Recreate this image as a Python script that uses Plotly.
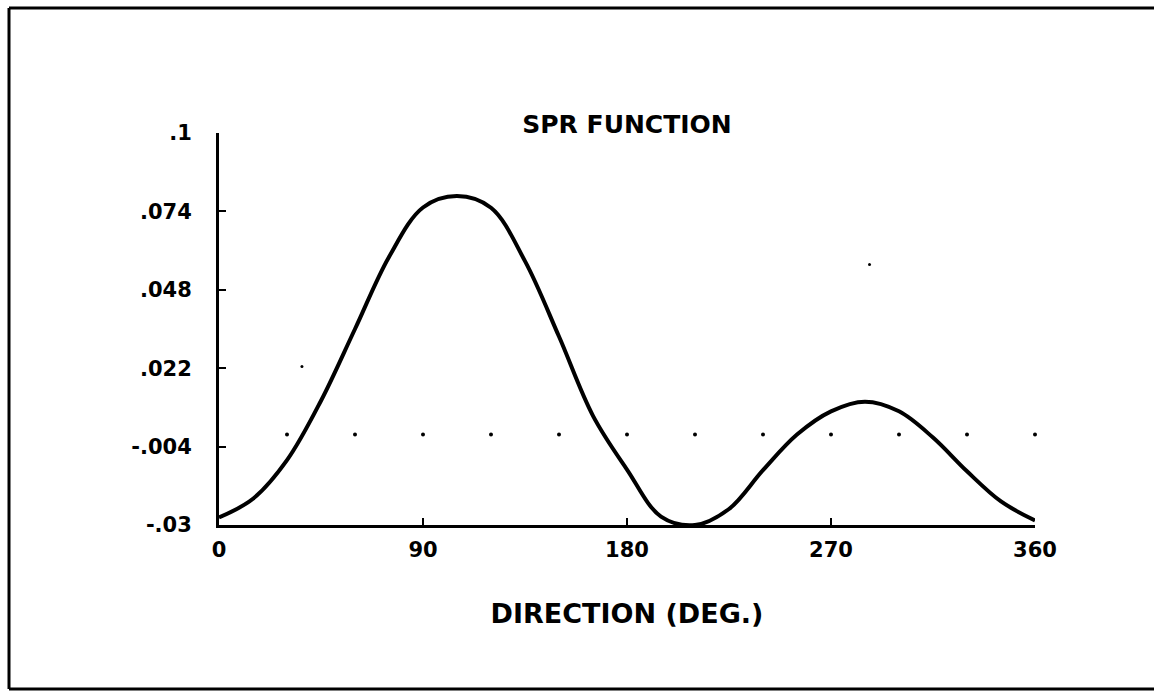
import plotly.graph_objects as go

# Curve samples (direction in degrees, SPR value)
direction = [0, 15, 30, 45, 60, 75, 90, 105, 120, 135, 150, 165, 180, 195, 210,
             225, 240, 255, 270, 285, 300, 315, 330, 345, 360]
spr = [-0.0275, -0.0213, -0.0085, 0.0112, 0.0350, 0.0589, 0.0753, 0.0791, 0.0752, 0.0575,
       0.0325, 0.0062, -0.0116, -0.0272, -0.0300, -0.0247, -0.0118, 0.0000, 0.0077, 0.0109,
       0.0077, -0.0010, -0.0122, -0.0222, -0.0285]

# Dotted reference line
dot_x = [30, 60, 90, 120, 150, 180, 210, 240, 270, 300, 330, 360]
dot_y = [0, 0, 0, 0, 0, 0, 0, 0, 0, 0, 0, 0]

# Stray specks visible on the sheet
speck_x = [36.6, 287, 167, -40]
speck_y = [0.0226, 0.0564, 0.1106, -0.0638]

x_ticks = [0, 90, 180, 270, 360]
x_ticktext = ["0", "90", "180", "270", "360"]
y_ticks = [0.1, 0.074, 0.048, 0.022, -0.004, -0.03]
y_ticktext = [".1", ".074", ".048", ".022", "-.004", "-.03"]

FONT = "DejaVu Sans"
W, H = 1154, 691
L, R, T, B = 219, 119, 133, 166
PW, PH = W - L - R, H - T - B

fig = go.Figure()
fig.add_trace(go.Scatter(x=dot_x, y=dot_y, mode="markers",
                         marker=dict(color="black", size=4), cliponaxis=False, showlegend=False))
fig.add_trace(go.Scatter(x=speck_x, y=speck_y, mode="markers",
                         marker=dict(color="black", size=3), cliponaxis=False, showlegend=False))
fig.add_trace(go.Scatter(x=direction, y=spr, mode="lines",
                         line=dict(color="black", width=4, shape="spline", smoothing=1.0),
                         cliponaxis=False, showlegend=False))

fig.update_layout(
    width=W, height=H,
    margin=dict(l=L, r=R, t=T, b=B),
    paper_bgcolor="white", plot_bgcolor="white",
    title=dict(text="SPR FUNCTION", x=0.5, xref="paper", xanchor="center",
               y=1 - 124 / H, yref="container", yanchor="middle",
               font=dict(family=FONT, size=25, color="black", weight="bold")),
    font=dict(family=FONT, color="black"),
    showlegend=False,
)
fig.update_xaxes(range=[0, 360], tickvals=x_ticks, ticktext=x_ticktext,
                 showline=True, linecolor="black", linewidth=3, showgrid=False, zeroline=False,
                 ticks="inside", ticklen=7, tickwidth=2, tickcolor="black",
                 ticklabelstandoff=4,
                 tickfont=dict(family=FONT, size=21, color="black", weight="bold"),
                 title=dict(text="DIRECTION (DEG.)", standoff=43,
                            font=dict(family=FONT, size=27, color="black", weight="bold")))
fig.update_yaxes(range=[-0.03, 0.1], tickvals=y_ticks, ticktext=y_ticktext,
                 showline=True, linecolor="black", linewidth=3, showgrid=False, zeroline=False,
                 ticks="inside", ticklen=7, tickwidth=2, tickcolor="black",
                 ticklabelstandoff=20,
                 tickfont=dict(family=FONT, size=21, color="black", weight="bold"))

# Outer frame of the sheet (left, top and bottom edges; right edge is off the sheet)
fx0 = (9 - L) / PW
fx1 = (W - L) / PW
fy_top = (H - B - 8) / PH
fy_bot = (H - B - 689) / PH
frame = dict(color="black", width=3)
fig.add_shape(type="line", xref="paper", yref="paper", x0=fx0, x1=fx0, y0=fy_bot, y1=fy_top, line=frame)
fig.add_shape(type="line", xref="paper", yref="paper", x0=fx0, x1=fx1, y0=fy_top, y1=fy_top, line=frame)
fig.add_shape(type="line", xref="paper", yref="paper", x0=fx0, x1=fx1, y0=fy_bot, y1=fy_bot, line=frame)

fig.write_html(
    "out.html",
    config={"displayModeBar": False},
    post_script=("document.body.style.margin='0';"
                 "document.body.style.overflow='hidden';"
                 "document.documentElement.style.overflow='hidden';"),
)
